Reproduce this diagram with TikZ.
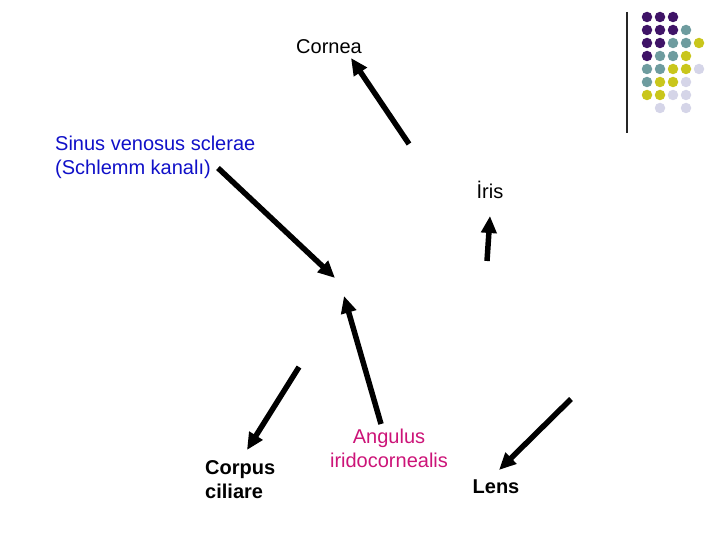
\documentclass[tikz,border=0pt]{standalone}
\usepackage{fontspec}
\setmainfont{Liberation Sans}
\usetikzlibrary{arrows.meta}
\definecolor{dpurple}{HTML}{3F1367}
\definecolor{dteal}{HTML}{6E9C9F}
\definecolor{dyellow}{HTML}{C9C61C}
\definecolor{dlav}{HTML}{D5D5E8}
\definecolor{sinusblue}{HTML}{1010C8}
\definecolor{angmag}{HTML}{CC1478}
\tikzset{
  lbl/.style={font=\fontsize{20}{24}\selectfont, inner sep=0pt, align=center},
  lblb/.style={lbl, font=\fontsize{20}{24}\selectfont\bfseries},
  arr/.style={line width=5.5pt, -{Triangle[length=17pt,width=15pt]}, black},
  dot/.style={circle, fill=#1, inner sep=0pt, minimum size=10.5pt},
}
\begin{document}
\begin{tikzpicture}[x=1pt,y=-1pt]
\useasboundingbox (0,0) rectangle (720,540);
% labels
\node[lbl] (cornea) at (329,47) {Cornea};
\node[lbl, text=sinusblue, align=left, anchor=west] (sinus) at (55,157) {Sinus venosus sclerae\\(Schlemm kanalı)};
\node[lbl] (iris) at (490,190) {İris};
\node[lblb, align=left, anchor=west] (corpus) at (205,480) {Corpus\\ciliare};
\node[lbl, text=angmag] (angulus) at (389,448) {Angulus\\iridocornealis};
\node[lblb] (lens) at (496,487) {Lens};
% arrow end points
\coordinate (c1t) at (409,144); \coordinate (c1h) at (351,58);
\coordinate (s1t) at (218,168); \coordinate (s1h) at (335,278);
\coordinate (i1t) at (487,261); \coordinate (i1h) at (490,216);
\coordinate (p1t) at (299,367); \coordinate (p1h) at (247,450);
\coordinate (a1t) at (381,424); \coordinate (a1h) at (344,296);
\coordinate (l1t) at (571,399); \coordinate (l1h) at (499,470);
\draw[arr] (c1t) -- (c1h);
\draw[arr] (s1t) -- (s1h);
\draw[arr] (i1t) -- (i1h);
\draw[arr] (p1t) -- (p1h);
\draw[arr] (a1t) -- (a1h);
\draw[arr] (l1t) -- (l1h);
% decoration
\coordinate (vtop) at (627,12); \coordinate (vbot) at (627,133);
\draw[line width=1.2pt, black!85] (vtop) -- (vbot);
\foreach \c [count=\i] in {dpurple,dpurple,dpurple}{\node[dot=\c] (d1\i) at ({634+13*\i},17) {};}
\foreach \c [count=\i] in {dpurple,dpurple,dpurple,dteal}{\node[dot=\c] (d2\i) at ({634+13*\i},30) {};}
\foreach \c [count=\i] in {dpurple,dpurple,dteal,dteal,dyellow}{\node[dot=\c] (d3\i) at ({634+13*\i},43) {};}
\foreach \c [count=\i] in {dpurple,dteal,dteal,dyellow}{\node[dot=\c] (d4\i) at ({634+13*\i},56) {};}
\foreach \c [count=\i] in {dteal,dteal,dyellow,dyellow,dlav}{\node[dot=\c] (d5\i) at ({634+13*\i},69) {};}
\foreach \c [count=\i] in {dteal,dyellow,dyellow,dlav}{\node[dot=\c] (d6\i) at ({634+13*\i},82) {};}
\foreach \c [count=\i] in {dyellow,dyellow,dlav,dlav}{\node[dot=\c] (d7\i) at ({634+13*\i},95) {};}
\node[dot=dlav] (d82) at (660,108) {};
\node[dot=dlav] (d84) at (686,108) {};
\end{tikzpicture}
\end{document}
